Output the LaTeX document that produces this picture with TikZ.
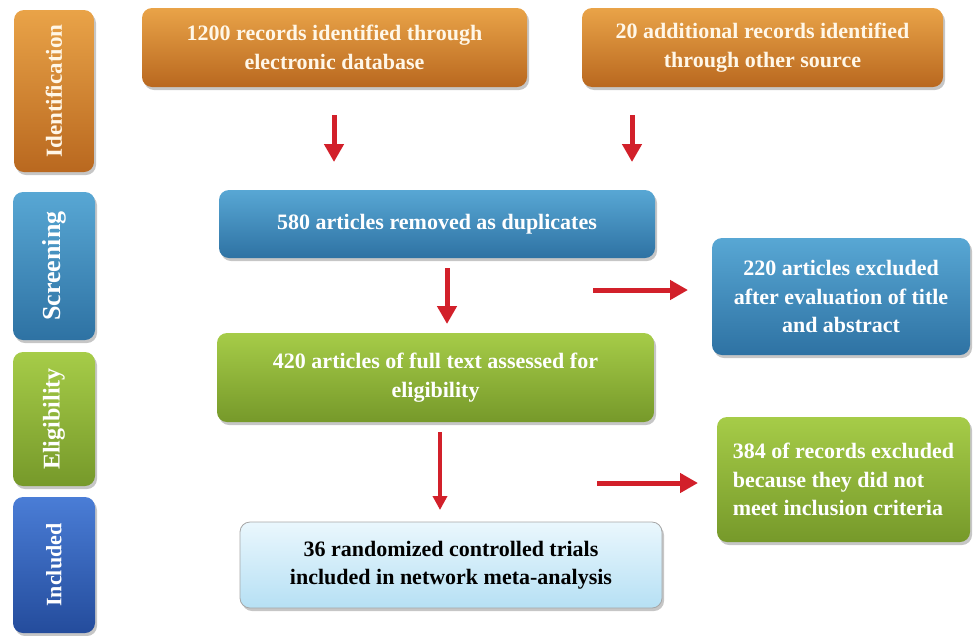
\documentclass[tikz,border=0pt]{standalone}
\usepackage{fontspec}
\setmainfont{Liberation Serif}[BoldFont={Liberation Serif Bold}]
\newfontfamily\boxfont{Liberation Serif}[BoldFont={Liberation Serif Bold}]
\usetikzlibrary{arrows.meta,shadows,calc}

\definecolor{orTop}{HTML}{E9A348}
\definecolor{orMid}{HTML}{D5822E}
\definecolor{orBot}{HTML}{B9681F}
\definecolor{blTop}{HTML}{58A7D4}
\definecolor{blMid}{HTML}{3F8DC0}
\definecolor{blBot}{HTML}{2E72A3}
\definecolor{grTop}{HTML}{A6CC48}
\definecolor{grMid}{HTML}{8DB638}
\definecolor{grBot}{HTML}{76992A}
\definecolor{dbTop}{HTML}{4A7DD6}
\definecolor{dbMid}{HTML}{3563BE}
\definecolor{dbBot}{HTML}{244C9C}
\definecolor{lbTop}{HTML}{EAF7FD}
\definecolor{lbBot}{HTML}{B6E0F4}
\definecolor{arrowRed}{HTML}{D2202A}
\definecolor{creamText}{HTML}{FFF7E8}

\tikzset{
  box/.style={rounded corners=10pt, align=center, inner sep=0pt,
    font=\boxfont\bfseries\fontsize{22}{28.5}\selectfont, text=white,
    drop shadow={shadow xshift=2pt, shadow yshift=-3pt, opacity=0.45}},
  orangebox/.style={box, top color=orTop, middle color=orMid, bottom color=orBot, text=creamText},
  bluebox/.style={box, top color=blTop, middle color=blMid, bottom color=blBot},
  greenbox/.style={box, top color=grTop, middle color=grMid, bottom color=grBot},
  darkbluebox/.style={box, top color=dbTop, middle color=dbMid, bottom color=dbBot},
  lightbox/.style={box, top color=lbTop, bottom color=lbBot, draw=gray!70, line width=0.8pt, text=black},
  stagelabel/.style={rotate=90, text=white, font=\boxfont\bfseries\fontsize{#1}{#1}\selectfont},
  redarrow/.style={draw=arrowRed, line width=5pt,
    -{Triangle[length=18pt,width=19pt]}},
  redarrowthin/.style={draw=arrowRed, line width=4pt,
    -{Triangle[length=14pt,width=14pt]}}
}

\begin{document}
\begin{tikzpicture}[x=1pt,y=-1pt]
\useasboundingbox (0,0) rectangle (973,635);

% stage column
\node[orangebox, minimum width=80pt, minimum height=162pt] (sid) at (54,91) {};
\node[stagelabel=23, text=creamText] at (sid) {Identification};
\node[bluebox, minimum width=82pt, minimum height=148pt] (sscr) at (54,266) {};
\node[stagelabel=26] at (sscr) {Screening};
\node[greenbox, minimum width=82pt, minimum height=134pt] (selig) at (54,419) {};
\node[stagelabel=24] at (selig) {Eligibility};
\node[darkbluebox, minimum width=82pt, minimum height=136pt] (sinc) at (54,565) {};
\node[stagelabel=22] at (sinc) {Included};

% flow boxes
\node[orangebox, minimum width=385pt, minimum height=79pt] (b1200) at (334.5,47.5)
  {1200 records identified through\\electronic database};
\node[orangebox, minimum width=361pt, minimum height=79pt] (b20) at (762.5,47.5)
  {20 additional records identified\\through other source};
\node[bluebox, minimum width=436pt, minimum height=68pt] (b580) at (437,224)
  {580 articles removed as duplicates};
\node[greenbox, minimum width=437pt, minimum height=89pt] (b420) at (435.5,377.5)
  {420 articles of full text assessed for\\eligibility};
\node[bluebox, minimum width=258pt, minimum height=117pt] (b220) at (841,296.5)
  {220 articles excluded\\after evaluation of title\\and abstract};
\node[greenbox, minimum width=253pt, minimum height=125pt, align=left] (b384) at (843.5,479.5)
  {384 of records excluded\\because they did not\\meet inclusion criteria};
\node[lightbox, minimum width=422pt, minimum height=86pt] (b36) at (451,565)
  {36 randomized controlled trials\\included in network meta-analysis};

% arrow end points
\coordinate (a1s) at (334,115);  \coordinate (a1e) at (334,162);
\coordinate (a2s) at (632,115);  \coordinate (a2e) at (632,162);
\coordinate (a3s) at (447,268);  \coordinate (a3e) at (447,324);
\coordinate (a4s) at (593,290);  \coordinate (a4e) at (688,290);
\coordinate (a5s) at (440,432);  \coordinate (a5e) at (440,510);
\coordinate (a6s) at (597,483);  \coordinate (a6e) at (698,483);

\draw[redarrow] (a1s) -- (a1e);
\draw[redarrow] (a2s) -- (a2e);
\draw[redarrow] (a3s) -- (a3e);
\draw[redarrow] (a4s) -- (a4e);
\draw[redarrowthin] (a5s) -- (a5e);
\draw[redarrow] (a6s) -- (a6e);
\end{tikzpicture}
\end{document}
